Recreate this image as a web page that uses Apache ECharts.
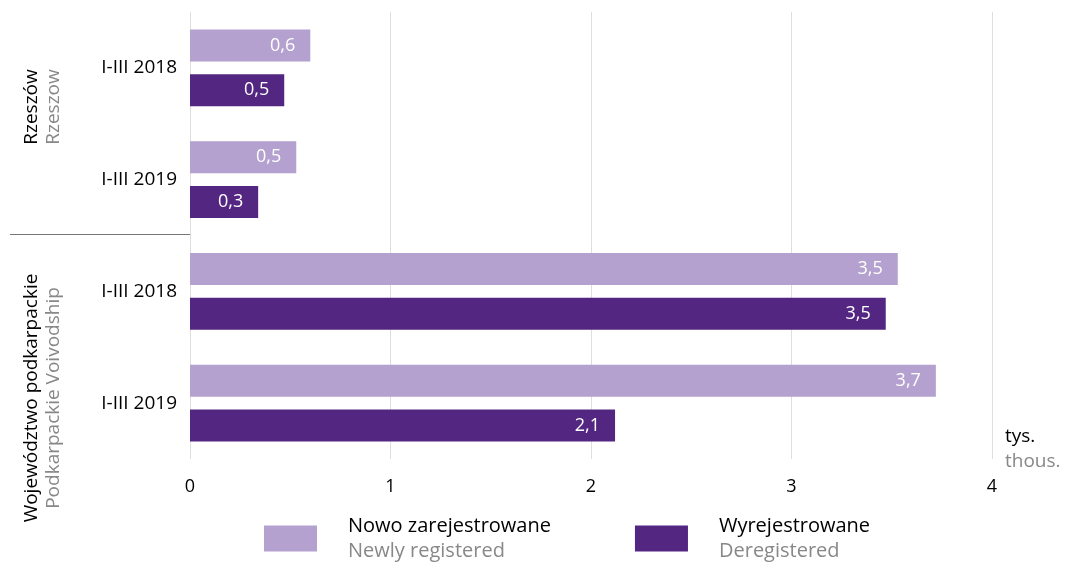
<!DOCTYPE html>
<html>
<head>
<meta charset="utf-8">
<script src="https://cdn.jsdelivr.net/npm/echarts@6/dist/echarts.min.js"></script>
<style>html,body{margin:0;padding:0;background:#fff}#c{width:1067px;height:562px}</style>
</head>
<body>
<div id="c"></div>
<script>
var categories = ['R-2018', 'R-2019', 'P-2018', 'P-2019'];
var categoryLabels = ['I-III 2018', 'I-III 2019', 'I-III 2018', 'I-III 2019'];
var newlyRegistered = [0.60, 0.53, 3.53, 3.72];
var deregistered = [0.47, 0.34, 3.47, 2.12];
var seriesNamesPL = ['Nowo zarejestrowane', 'Wyrejestrowane'];
var seriesNamesEN = ['Newly registered', 'Deregistered'];
var xTicks = [0, 1, 2, 3, 4];

var FONT = 'Open Sans';
var LIGHT = '#b4a1cf';
var DARK = '#522681';
var GRAY = '#888888';

var chart = echarts.init(document.getElementById('c'));
function fmt(v) { return v.toFixed(1).replace('.', ','); }
var labelCfg = {
  show: true, position: 'insideRight', distance: 15, color: '#fff',
  fontFamily: FONT, fontSize: 18,
  formatter: function (p) { return fmt(p.value); }
};
chart.setOption({
  animation: false,
  grid: { left: 190, right: 75, top: 12, bottom: 103, containLabel: false },
  xAxis: {
    type: 'value', min: xTicks[0], max: xTicks[xTicks.length - 1], interval: 1,
    axisLine: { show: false }, axisTick: { show: false },
    splitLine: { lineStyle: { color: '#dedede', width: 1 } },
    axisLabel: { color: '#000', fontFamily: FONT, fontSize: 18, margin: 19 }
  },
  yAxis: {
    type: 'category', data: categories, inverse: true,
    axisLine: { show: false }, axisTick: { show: false },
    axisLabel: {
      color: '#000', fontFamily: FONT, fontSize: 19, margin: 13,
      formatter: function (v, i) { return categoryLabels[i]; }
    }
  },
  legend: {
    left: 259, top: 511, itemWidth: 53, itemHeight: 26, itemGap: 84,
    icon: 'rect', selectedMode: false,
    data: seriesNamesPL,
    formatter: function (name) {
      var i = seriesNamesPL.indexOf(name);
      return '{a|' + name + '}\n{b|' + seriesNamesEN[i] + '}';
    },
    textStyle: {
      rich: {
        a: { color: '#000', fontFamily: FONT, fontSize: 20, lineHeight: 25, padding: [0, 0, 0, 26] },
        b: { color: GRAY, fontFamily: FONT, fontSize: 20, lineHeight: 25, padding: [0, 0, 0, 26] }
      }
    }
  },
  series: [
    { name: seriesNamesPL[0], type: 'bar', data: newlyRegistered, barWidth: 32, barGap: '40%',
      itemStyle: { color: LIGHT }, label: labelCfg },
    { name: seriesNamesPL[1], type: 'bar', data: deregistered, barWidth: 32, barGap: '40%',
      itemStyle: { color: DARK }, label: labelCfg }
  ],
  graphic: [
    { type: 'line', shape: { x1: 10, y1: 234.5, x2: 190, y2: 234.5 }, style: { stroke: '#777', lineWidth: 1 } },
    { type: 'text', x: 32, y: 107, rotation: Math.PI / 2,
      style: { text: 'Rzeszów', fill: '#000', font: '19px "' + FONT + '"', align: 'center', verticalAlign: 'middle' } },
    { type: 'text', x: 54, y: 107, rotation: Math.PI / 2,
      style: { text: 'Rzeszow', fill: GRAY, font: '19px "' + FONT + '"', align: 'center', verticalAlign: 'middle' } },
    { type: 'text', x: 32, y: 398, rotation: Math.PI / 2,
      style: { text: 'Województwo podkarpackie', fill: '#000', font: '19px "' + FONT + '"', align: 'center', verticalAlign: 'middle' } },
    { type: 'text', x: 54, y: 398, rotation: Math.PI / 2,
      style: { text: 'Podkarpackie Voivodship', fill: GRAY, font: '19px "' + FONT + '"', align: 'center', verticalAlign: 'middle' } },
    { type: 'text', x: 1005, y: 437,
      style: { text: 'tys.', fill: '#000', font: '19px "' + FONT + '"', align: 'left', verticalAlign: 'middle' } },
    { type: 'text', x: 1005, y: 462,
      style: { text: 'thous.', fill: GRAY, font: '19px "' + FONT + '"', align: 'left', verticalAlign: 'middle' } }
  ]
});
</script>
</body>
</html>
